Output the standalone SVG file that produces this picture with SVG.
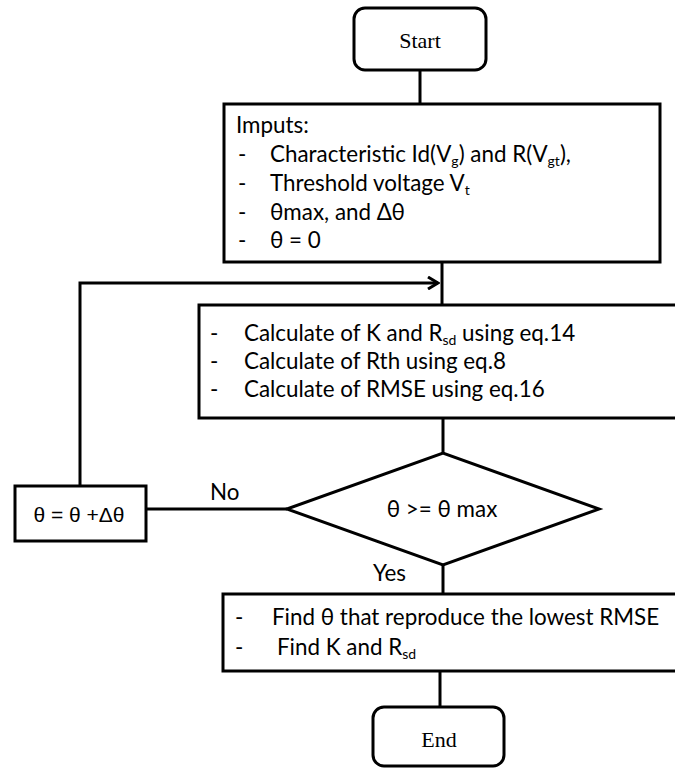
<svg xmlns="http://www.w3.org/2000/svg" width="675" height="769" viewBox="0 0 675 769">
<defs>
<style>
.box{fill:#fff;stroke:#000;stroke-width:3}
.ln{fill:none;stroke:#000;stroke-width:3}
.t{font-family:Lato,"Open Sans","Liberation Sans",sans-serif;font-size:22.4px;fill:#000}
.s{font-size:14px}
.a{font-family:"Liberation Sans",Arial,sans-serif;font-size:21px;fill:#000}
.serif{font-family:"Liberation Serif","Times New Roman",serif;font-size:22px;fill:#000}
</style>
<marker id="arr" viewBox="0 0 14 14" refX="12" refY="7" markerWidth="14" markerHeight="14" markerUnits="userSpaceOnUse" orient="auto">
<path d="M2,1 L12,7 L2,13" fill="none" stroke="#000" stroke-width="3"/>
</marker>
</defs>
<g id="connectors">
<line class="ln" x1="420" y1="70" x2="420" y2="104"/>
<line class="ln" x1="442" y1="262" x2="442" y2="305"/>
<polyline class="ln" points="80,486 80,283 438,283" marker-end="url(#arr)"/>
<line class="ln" x1="443" y1="418" x2="443" y2="453"/>
<line class="ln" x1="146" y1="509" x2="287" y2="509"/>
<line class="ln" x1="443" y1="565" x2="443" y2="594"/>
<line class="ln" x1="440" y1="671" x2="440" y2="707"/>
<text class="t" x="210" y="500">No</text>
<text class="t" x="373" y="581">Yes</text>
</g>
<g id="start">
<rect class="box" x="354" y="8" width="132" height="62" rx="11"/>
<text class="serif" x="420" y="48" text-anchor="middle">Start</text>
</g>
<g id="inputs">
<rect class="box" x="224" y="104" width="436" height="158"/>
<text class="t" x="236" y="133">Imputs:</text>
<text class="t" x="238" y="162">-</text>
<text class="t" x="270" y="162">Characteristic Id(V<tspan class="s" dy="4">g</tspan><tspan dy="-4">) and R(V</tspan><tspan class="s" dy="4">gt</tspan><tspan dy="-4">),</tspan></text>
<text class="t" x="238" y="191">-</text>
<text class="t" x="270" y="191">Threshold voltage V<tspan class="s" dy="4">t</tspan></text>
<text class="t" x="238" y="220">-</text>
<text class="t" x="270" y="220">θmax, and Δθ</text>
<text class="t" x="238" y="248">-</text>
<text class="t" x="270" y="248">θ = 0</text>
</g>
<g id="calc">
<rect class="box" x="199" y="305" width="490" height="113"/>
<text class="t" x="210" y="341">-</text>
<text class="t" x="244" y="341">Calculate of K and R<tspan class="s" dy="4">sd</tspan><tspan dy="-4"> using eq.14</tspan></text>
<text class="t" x="210" y="369">-</text>
<text class="t" x="244" y="369">Calculate of Rth using eq.8</text>
<text class="t" x="210" y="397">-</text>
<text class="t" x="244" y="397">Calculate of RMSE using eq.16</text>
</g>
<g id="decision">
<polygon class="box" points="287,509 443,453 599,509 443,565"/>
<text class="t" x="442" y="517" text-anchor="middle">θ &gt;= θ max</text>
</g>
<g id="increment">
<rect class="box" x="15" y="486" width="131" height="55"/>
<text class="a" x="79" y="522" text-anchor="middle">θ = θ +Δθ</text>
</g>
<g id="find">
<rect class="box" x="223" y="594" width="466" height="77"/>
<text class="t" x="235" y="625">-</text>
<text class="t" x="272" y="625">Find θ that reproduce the lowest RMSE</text>
<text class="t" x="235" y="655">-</text>
<text class="t" x="277" y="655">Find K and R<tspan class="s" dy="4">sd</tspan></text>
</g>
<g id="end">
<rect class="box" x="373" y="707" width="131" height="59" rx="11"/>
<text class="serif" x="439" y="747" text-anchor="middle">End</text>
</g>
</svg>
